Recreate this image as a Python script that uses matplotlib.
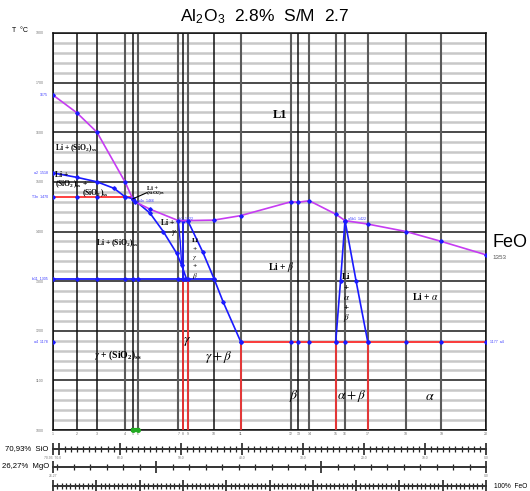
import matplotlib.pyplot as plt
import numpy as np

plt.rcParams['font.family'] = ['Liberation Sans', 'DejaVu Sans']
plt.rcParams['mathtext.fontset'] = 'stix'

# composition lines (FeO %), numbered 1..20 under the plot
comp_x = [0, 5.54, 10.16, 16.63, 18.48, 19.56, 28.94, 30.02, 31.11, 37.18,
          43.35, 54.97, 56.65, 59.19, 65.29, 67.44, 72.68, 81.52, 89.68, 100]
comp_dark = [1, 1, 1, 0, 1, 0, 0, 1, 0, 1, 0, 0, 1, 0, 0, 0, 0, 0, 0, 1]

# liquidus (purple)
liq_x = [0, 5.54, 10.16, 16.63, 18.4, 18.94, 22.4, 28.94, 31.11, 37.18,
         43.35, 54.97, 56.65, 59.19, 65.29, 67.44, 72.68, 81.52, 89.68, 100]
liq_t = [1675, 1639, 1600, 1500, 1466, 1460, 1445, 1422, 1422, 1423,
         1432, 1460, 1459, 1462, 1435, 1422, 1415, 1400, 1380, 1353]

# (SiO2)ss boundary
sio_x = [0, 5.6, 10.2, 14.1, 16.63, 18.48]
sio_t = [1518, 1509, 1500, 1487, 1470, 1466]
# Li + gamma boundary
lg_x = [18.48, 22.4, 25.47, 28.57, 29.72, 30.8]
lg_t = [1466, 1437, 1400, 1356, 1332, 1305]
lg2_x = [28.94, 29.4, 29.72]
lg2_t = [1422, 1378, 1332]
# gamma + beta boundary
gb_x = [31.11, 34.57, 37.18, 39.3, 43.35]
gb_t = [1422, 1359, 1305, 1258, 1178]
# Li + alpha + beta triangle
ab_left_x = [67.44, 66.4, 65.29]
ab_left_t = [1422, 1300, 1178]
ab_right_x = [67.44, 70.0, 72.68]
ab_right_t = [1422, 1300, 1178]

t_eut1 = 1470   # red, left
t_per = 1305    # blue horizontal
t_sol = 1178    # red, right

labels = [
    ('L1', 50.8, 1635, 9),
    (r'Li + (SiO$_\mathregular{2}$)$_\mathregular{ss}$', 0.4, 1568, 5.5),
    ('Li +', 0.4, 1514, 5.5),
    (r'(SiO$_\mathregular{2}$)$_\mathregular{ss}$ +', 0.4, 1496, 5.5),
    (r'(SiO$_\mathregular{2}$)$_\mathregular{ss}$', 6.8, 1478, 5.5),
    (r'Li + (SiO$_\mathregular{2}$)$_\mathregular{ss}$', 10.0, 1377, 5.5),
    (r'Li + $\beta$', 49.6, 1328, 7),
    (r'Li + $\alpha$', 83.0, 1270, 7),
    (r'$\gamma$', 30.0, 1178, 10),
    (r'$\gamma$ + (SiO$_\mathregular{2}$)$_\mathregular{ss}$', 9.5, 1151, 7),
    (r'$\gamma + \beta$', 35.0, 1147, 9.5),
    (r'$\beta$', 54.6, 1068, 10),
    (r'$\alpha + \beta$', 65.6, 1068, 9.5),
    (r'$\alpha$', 85.8, 1068, 10),
]
stack_gb = ['Li', '+', r'$\gamma$', '+', r'$\beta$']
stack_gb_t = [1381, 1363, 1346, 1329, 1311]
stack_ab = ['Li', '+', r'$\alpha$', '+', r'$\beta$']
stack_ab_t = [1309, 1287, 1266, 1246, 1226]

blue_left = [('1675', 1675), ('a2  1518', 1518), ('T3n  1470', 1470),
             ('b11  1305', 1305), ('a4  1178', 1178)]

purple = '#c63cf2'
blue = '#1a1aff'
red = '#ff3030'

fig = plt.figure(figsize=(5.30, 4.91), dpi=100)
ax = fig.add_axes([0.1, 0.1242, 0.817, 0.8086])
ax.set_xlim(0, 100)
ax.set_ylim(1000, 1800)

# horizontal grid
for t in range(1000, 1801, 20):
    if t % 100 == 0:
        ax.axhline(t, color='#1a1a1a', lw=1.1, zorder=2)
    else:
        ax.axhline(t, color='#c8c8c8', lw=1.8, zorder=1)
# composition lines
for x, d in zip(comp_x, comp_dark):
    ax.axvline(x, color='#111111' if d else '#5a5a5a', lw=1.1 if d else 1.5, zorder=2)
for i, x in enumerate(comp_x):
    ax.text(x, 996, str(i + 1), fontsize=2.5, color='#666666', ha='center', va='top')

# red lines
ax.plot([0, 18.0], [t_eut1, t_eut1], color=red, lw=1.3, zorder=3)
ax.plot([43.35, 100], [t_sol, t_sol], color=red, lw=1.3, zorder=3)
for x in [30.02, 31.11]:
    ax.plot([x, x], [t_per, 1000], color=red, lw=1.2, zorder=3)
for x in [43.35, 65.29, 72.68]:
    ax.plot([x, x], [t_sol, 1000], color=red, lw=1.2, zorder=3)

# blue lines
mk = dict(marker='D', ms=1.8, mfc=blue, mec=blue, zorder=4)
ax.plot([0, 37.18], [t_per, t_per], color=blue, lw=1.3, zorder=4)
ax.plot([x for x in comp_x if x <= 37.2], [t_per] * 10, ls='none', **mk)
ax.plot([x for x in comp_x if x <= 16.7], [t_eut1] * 4, ls='none', **mk)
ax.plot([x for x in comp_x if x >= 43], [t_sol] * 10, ls='none', **mk)
ax.plot([0], [t_sol], ls='none', **mk)
ax.plot(sio_x, sio_t, color=blue, lw=1.2, **mk)
ax.plot(lg_x, lg_t, color=blue, lw=1.2, **mk)
ax.plot(lg2_x, lg2_t, color=blue, lw=1.0, zorder=4)
ax.plot([30.02, 30.02], [1422, t_per], color=blue, lw=1.2, **mk)
ax.plot(gb_x, gb_t, color=blue, lw=1.2, **mk)
ax.plot(ab_left_x, ab_left_t, color=blue, lw=1.2, **mk)
ax.plot(ab_right_x, ab_right_t, color=blue, lw=1.2, **mk)

# liquidus
ax.plot(liq_x, liq_t, color=purple, lw=1.2, zorder=5,
        marker='D', ms=1.8, mfc=blue, mec=blue)

# green mark at bottom
ax.plot([18.48, 19.56], [1001, 1001], color='#22aa22', lw=3, marker='o', ms=2.5,
        clip_on=False, zorder=6)

# annotation arrow
ax.plot([18.48, 21.6], [1466, 1478], color='black', lw=0.8, zorder=6)
ax.text(21.6, 1487, 'Li +', fontsize=4.5, family='Liberation Serif', weight='bold',
        va='center', zorder=7)
ax.text(21.4, 1477, r'(SiO$_\mathregular{2}$)$_\mathregular{ss}$', fontsize=3.8,
        family='Liberation Serif', weight='bold', va='center', zorder=7)
ax.text(24.9, 1418, 'Li +', fontsize=5.5, family='Liberation Serif', weight='bold',
        va='center', zorder=7)
ax.text(27.9, 1396, r'$\gamma$', fontsize=6.5, va='center', ha='center', zorder=7)

for s, x, t, fs in labels:
    ax.text(x, t, s, fontsize=fs, family='Liberation Serif', weight='bold',
            va='center', zorder=7)
for s, t in zip(stack_gb, stack_gb_t):
    ax.text(32.8, t, s, fontsize=5.3, family='Liberation Serif', weight='bold',
            ha='center', va='center', zorder=7)
for s, t in zip(stack_ab, stack_ab_t):
    ax.text(67.8, t, s, fontsize=6.5, family='Liberation Serif', weight='bold',
            ha='center', va='center', zorder=7)

# small blue point labels
small = dict(fontsize=2.6, color='#3a3aff', va='center', zorder=7)
ax.text(19.6, 1462, 'a4n  1466', **small)
ax.text(29.2, 1426, 'b1  1422', **small)
ax.text(68.2, 1426, 'a5b1  1422', **small)
ax.text(101, t_sol, '1177  a4', **small)
for s, t in blue_left:
    ax.text(-1.2, t, s, ha='right', fontsize=2.6, color='#3a3aff', va='center')
ax.text(101.5, 1348, '1353', fontsize=4.5, color='#555555', va='center')
ax.text(101.5, 1378, 'FeO', fontsize=13, va='center')

ax.set_yticks(range(1000, 1801, 100))
ax.set_yticklabels([str(t) for t in range(1000, 1801, 100)], fontsize=2.6, color='#777777')
ax.tick_params(axis='y', length=0, pad=7)
ax.set_xticks([])
for sp in ax.spines.values():
    sp.set_linewidth(1.1)
    sp.set_color('#111111')

fig.text(0.5, 0.965, r'Al$_\mathregular{2}$O$_\mathregular{3}$  2.8%  S/M  2.7',
         ha='center', va='center', fontsize=12.5)
fig.text(0.023, 0.937, 'T  °C', fontsize=5, va='center')

# composition scales under the diagram
def scale(ypix, lo, hi, step):
    sa = fig.add_axes([0.1, 1 - ypix / 491, 0.817, 0.0001])
    sa.set_xlim(lo, hi)
    for k in ['top', 'left', 'right']:
        sa.spines[k].set_visible(False)
    sa.spines['bottom'].set_linewidth(1.4)
    sa.spines['bottom'].set_color('#333333')
    sa.set_yticks([])
    ticks = np.arange(0, max(lo, hi) + 0.01, step)
    sa.set_xticks(ticks, minor=True)
    sa.tick_params(which='minor', direction='inout', length=5, width=0.9, color='#222222')
    sa.tick_params(which='major', direction='inout', length=8, width=1.1, color='#111111',
                   labelsize=2.4, labelcolor='#777777', pad=1)
    return sa

sa = scale(449, 70.93, 0, 1)
sa.set_xticks([70.93, 70, 60, 50, 40, 30, 20, 10, 0])
sa.set_xticklabels(['70.93  70.0', '', '60.0', '50.0', '40.0', '30.0', '20.0', '10.0', '0.0'])
fig.text(0.092, 1 - 449 / 491, '70,93%  SiO', ha='right', va='center', fontsize=5.6)

sm = scale(467, 26.27, 0, 1)
sm.set_xticks([26.27, 20, 10, 0])
sm.set_xticklabels(['26.27', '', '', '0.0'])
fig.text(0.092, 1 - 467 / 491, '26,27%  MgO', ha='right', va='center', fontsize=5.6)

sf = scale(486, 0, 100, 1)
sf.set_xticks(range(0, 101, 10))
sf.set_xticklabels([])
fig.text(0.932, 1 - 487 / 491, '100%  FeO', ha='left', va='center', fontsize=4.8)

fig.savefig('out.png', dpi=100)
